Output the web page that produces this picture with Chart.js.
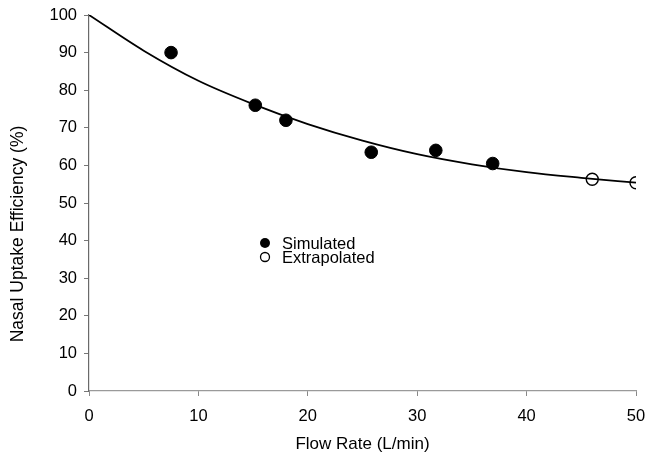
<!DOCTYPE html>
<html>
<head>
<meta charset="utf-8">
<script src="https://cdn.jsdelivr.net/npm/chart.js@4"></script>
<style>
  html, body { margin: 0; padding: 0; background: #fff; }
  #wrap { width: 645px; height: 455px; }
</style>
</head>
<body>
<div id="wrap"><canvas id="myChart"></canvas></div>
<script>
const simFlow = [7.5, 15.2, 18, 25.8, 31.7, 36.9];
const simEff = [90, 76, 72, 63.5, 64, 60.5];
const extFlow = [46, 50];
const extEff = [56.3, 55.4];
const fitFlow = [0, 5, 10, 15, 20, 25, 30, 35, 40, 45, 50];
const fitEff = [100, 90.5, 82.5, 76.3, 71, 66.6, 63, 60.3, 58.2, 56.7, 55.4];
const xTicks = [0, 10, 20, 30, 40, 50];
const yTicks = [0, 10, 20, 30, 40, 50, 60, 70, 80, 90, 100];
const yTitle = "Nasal Uptake Efficiency (%)";

const pts = (xs, ys) => xs.map((x, i) => ({ x: x, y: ys[i] }));
const family = "'Liberation Sans', Arial, sans-serif";
const font = { family: family, size: 16.5 };

// legend and y title drawn by hand so they sit where the original has them
const extras = {
    id: "extras",
    afterDraw(chart) {
        const ctx = chart.ctx;
        const items = chart.data.datasets.filter(d => d.showInLegend);
        ctx.save();
        ctx.font = "16.5px " + family;
        ctx.textBaseline = "middle";
        items.forEach((d, i) => {
            const x = 265, y = 243 + i * 14;
            ctx.beginPath();
            ctx.arc(x, y, d.legendRadius, 0, Math.PI * 2);
            if (d.filled) {
                ctx.fillStyle = "#000";
                ctx.fill();
            } else {
                ctx.lineWidth = 1.3;
                ctx.strokeStyle = "#000";
                ctx.stroke();
            }
            ctx.fillStyle = "#000";
            ctx.fillText(d.label, 282, y + 1);
        });

        ctx.translate(18, 234);
        ctx.rotate(-Math.PI / 2);
        ctx.textAlign = "center";
        ctx.font = "17.5px " + family;
        ctx.fillText(yTitle, 0, 0);
        ctx.restore();
    },
};

const data = {
    datasets: [
        {
            type: "scatter",
            label: "Simulated",
            data: pts(simFlow, simEff),
            backgroundColor: "#000",
            borderColor: "#000",
            pointRadius: 6.3,
            pointHoverRadius: 6.3,
            showInLegend: true,
            filled: true,
            legendRadius: 5,
            order: 0,
        },
        {
            type: "scatter",
            label: "Extrapolated",
            data: pts(extFlow, extEff),
            backgroundColor: "rgba(0,0,0,0)",
            borderColor: "#000",
            borderWidth: 1.4,
            pointRadius: 6,
            pointHoverRadius: 6,
            showInLegend: true,
            filled: false,
            legendRadius: 4.5,
            order: 1,
        },
        {
            type: "line",
            label: "Fit",
            data: pts(fitFlow, fitEff),
            borderColor: "#000",
            borderWidth: 1.8,
            pointRadius: 0,
            fill: false,
            cubicInterpolationMode: "monotone",
            order: 2,
        },
    ],
};

const config = {
    type: "scatter",
    data: data,
    plugins: [extras],
    options: {
        responsive: true,
        maintainAspectRatio: false,
        animation: false,
        layout: {
            padding: { top: 15, right: 9, left: 0, bottom: 0 },
        },
        scales: {
            x: {
                type: "linear",
                min: 0,
                max: 50,
                afterBuildTicks: (s) => { s.ticks = xTicks.map(v => ({ value: v })); },
                afterFit: (s) => { s.height = 64; s.paddingRight = 0; s.paddingLeft = 0; },
                border: { display: true, color: "#9a9a9a", width: 1.2 },
                grid: { display: true, drawOnChartArea: false, color: "#888", tickLength: 5 },
                ticks: { color: "#000", font: font, padding: 11 },
                title: {
                    display: true,
                    text: "Flow Rate (L/min)",
                    color: "#000",
                    font: { family: family, size: 17 },
                    padding: { top: 11, bottom: 0 },
                },
            },
            y: {
                type: "linear",
                min: 0,
                max: 100,
                afterBuildTicks: (s) => { s.ticks = yTicks.map(v => ({ value: v })); },
                afterFit: (s) => { s.width = 89; s.paddingTop = 0; s.paddingBottom = 0; },
                border: { display: true, color: "#6a6a6a", width: 1.2 },
                grid: { display: true, drawOnChartArea: false, color: "#777", tickLength: 5 },
                ticks: { color: "#000", font: font, padding: 7 },
                title: { display: false },
            },
        },
        plugins: {
            legend: { display: false },
            tooltip: { enabled: false },
        },
    },
};

const myChart = new Chart(
    document.getElementById("myChart").getContext("2d"),
    config
);
</script>
</body>
</html>
